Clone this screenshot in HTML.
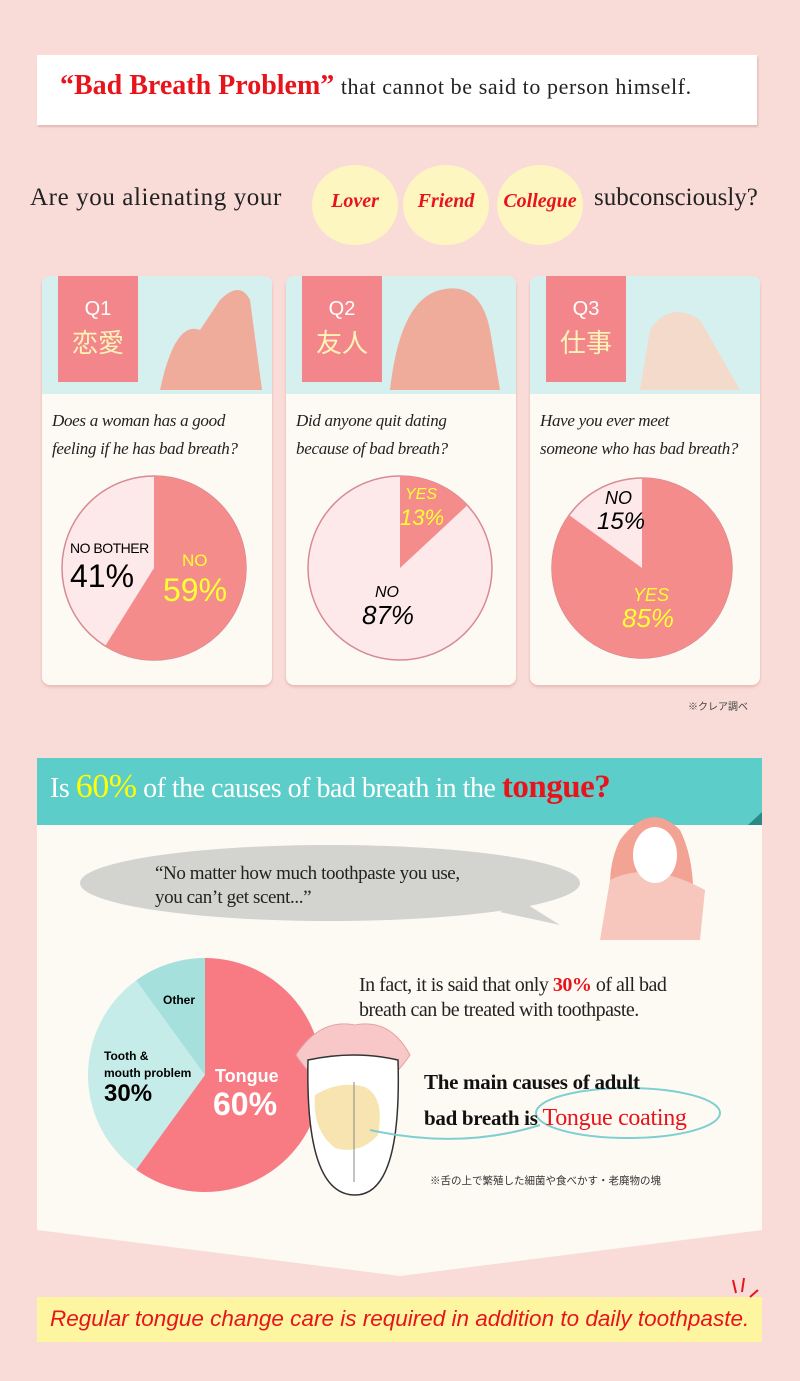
<!DOCTYPE html>
<html><head><meta charset="utf-8"><style>
body{margin:0;width:800px;height:1381px;background:#f9dcd8;position:relative;overflow:hidden;font-family:"Liberation Serif","Noto Serif CJK SC",serif}
.a{position:absolute}
.card{position:absolute;top:276px;width:230px;height:409px;background:#fdfaf3;border-radius:8px;box-shadow:0 2px 3px #e6b8b4;overflow:hidden}
.card .hd{position:absolute;left:0;top:0;width:230px;height:118px;background:#d6efef}
.tag{position:absolute;left:16px;top:0;width:80px;height:106px;background:#f2868a;color:#fff3b8;text-align:center;font-family:"Liberation Sans","Noto Sans CJK JP",sans-serif}
.tag b{display:block;font-size:20px;font-weight:normal;color:#fff;margin-top:22px}
.tag i{display:block;font-style:normal;font-size:26px;margin-top:2px}
.q{position:absolute;left:10px;top:131px;font-style:italic;font-size:17px;line-height:28px;color:#222;letter-spacing:-0.3px}
.sans{font-family:"Liberation Sans",sans-serif;font-style:italic}
.circ{position:absolute;top:165px;width:86px;height:80px;border-radius:50%;background:#fdf6c0;text-align:center;line-height:72px;color:#e8141c;font-weight:bold;font-style:italic;font-size:20px}
</style></head><body>
<div class="a" style="left:37px;top:55px;width:720px;height:70px;background:#fff;box-shadow:1px 2px 2px #e0b8b5"></div>
<div class="a" style="left:60px;top:70px;font-size:26px;white-space:nowrap"><span style="color:#e8141c;font-weight:bold;font-size:28px">“Bad Breath Problem”</span> <span style="font-size:22px;color:#222;letter-spacing:0.6px">that cannot be said to person himself.</span></div>
<div class="a" style="left:30px;top:184px;font-size:25px;color:#222;letter-spacing:0.6px">Are you alienating your</div>
<div class="circ" style="left:312px">Lover</div>
<div class="circ" style="left:403px">Friend</div>
<div class="circ" style="left:497px">Collegue</div>
<div class="a" style="left:594px;top:184px;font-size:25px;color:#222">subconsciously?</div>

<div class="card" style="left:42px"><div class="hd"></div><div class="tag"><b>Q1</b><i>恋愛</i></div><div class="q">Does a woman has a good<br>feeling if  he has bad breath?</div></div>
<div class="card" style="left:286px"><div class="hd"></div><div class="tag"><b>Q2</b><i>友人</i></div><div class="q">Did anyone quit dating<br>because of  bad breath?</div></div>
<div class="card" style="left:530px"><div class="hd"></div><div class="tag"><b>Q3</b><i>仕事</i></div><div class="q">Have you ever meet<br>someone who has bad breath?</div></div>

<svg class="a" style="left:0;top:0" width="800" height="1381">
<g stroke="#d88a92" stroke-width="1.5">
<circle cx="154" cy="568" r="92" fill="#fde8ea"/>
<path d="M154 568 L154 476 A92 92 0 1 1 105.2 646 Z" fill="#f58c8c" stroke="none"/>
<circle cx="400" cy="568" r="92" fill="#fde8ea"/>
<path d="M400 568 L400 476 A92 92 0 0 1 467.3 505.3 Z" fill="#f58c8c" stroke="none"/>
<circle cx="642" cy="568" r="90" fill="#fde8ea"/>
<path d="M642 568 L642 478 A90 90 0 1 1 569.2 515.1 Z" fill="#f58c8c" stroke="none"/>
</g>
<g fill="#f3a08c" opacity="0.85"><path d="M160 390 Q175 320 200 330 L220 300 Q240 280 250 300 L262 390 Z"/><path d="M390 390 Q400 300 440 290 Q480 280 490 330 L500 390 Z"/><path d="M640 390 L650 330 Q670 300 700 320 L740 390 Z" fill="#f8d6c4"/></g>
<rect x="37" y="823" width="725" height="407" fill="#fdfaf3"/>
<path d="M37 1230 L762 1230 L400 1276 Z" fill="#fdfaf3"/>
<rect x="37" y="758" width="725" height="67" fill="#5ccdc8"/>
<path d="M748 825 L762 812 L762 825 Z" fill="#2b8a86"/>
<ellipse cx="330" cy="883" rx="250" ry="38" fill="#d3d3d0"/>
<path d="M520 900 L560 925 L500 912 Z" fill="#d3d3d0"/>
<g><path d="M620 940 Q600 880 620 840 Q650 800 680 830 Q700 870 690 940 Z" fill="#f2a393"/><path d="M600 940 L610 880 Q650 860 705 890 L700 940 Z" fill="#f7c7bd"/><ellipse cx="655" cy="855" rx="22" ry="28" fill="#fff"/></g>
<circle cx="205" cy="1075" r="117" fill="#c6ecea"/>
<path d="M205 1075 L205 958 A117 117 0 1 1 136.2 1169.7 Z" fill="#f87b84"/>
<path d="M205 1075 L136.2 980.3 A117 117 0 0 1 205 958 Z" fill="#a5e0dc"/>
<path d="M296 1055 Q320 1018 355 1025 Q390 1018 410 1055 Q385 1092 355 1092 Q320 1092 296 1055 Z" fill="#f8c8c8" stroke="#e5a3a3"/>
<path d="M308 1060 Q305 1195 355 1195 Q402 1195 398 1060 Q355 1050 308 1060 Z" fill="#fff" stroke="#333" stroke-width="1.5"/>
<path d="M315 1095 Q340 1080 365 1087 Q385 1097 378 1135 Q360 1155 335 1148 Q312 1130 315 1095 Z" fill="#f7e4b0"/>
<line x1="354" y1="1082" x2="354" y2="1182" stroke="#888"/>
<ellipse cx="628" cy="1113" rx="92" ry="25" fill="none" stroke="#7fcfd0" stroke-width="2"/>
<path d="M540 1125 Q460 1150 370 1130" fill="none" stroke="#7fcfd0" stroke-width="2"/>
<rect x="37" y="1297" width="725" height="45" fill="#fdf5a0"/>
<g stroke="#e8141c" stroke-width="2"><line x1="733" y1="1280" x2="736" y2="1293"/><line x1="744" y1="1278" x2="742" y2="1292"/><line x1="758" y1="1290" x2="750" y2="1297"/></g>
</svg>

<div class="a sans" style="left:70px;top:540px;font-size:14px;font-style:normal;letter-spacing:-0.5px">NO BOTHER</div>
<div class="a sans" style="left:70px;top:558px;font-size:32px;font-style:normal">41%</div>
<div class="a sans" style="left:182px;top:551px;font-size:17px;font-style:normal;color:#ffff33">NO</div>
<div class="a sans" style="left:163px;top:572px;font-size:32px;font-style:normal;color:#ffff33">59%</div>
<div class="a sans" style="left:405px;top:486px;font-size:16px;color:#ffff33">YES</div>
<div class="a sans" style="left:400px;top:505px;font-size:22px;color:#ffff33">13%</div>
<div class="a sans" style="left:375px;top:584px;font-size:16px">NO</div>
<div class="a sans" style="left:362px;top:600px;font-size:26px">87%</div>
<div class="a sans" style="left:605px;top:488px;font-size:18px">NO</div>
<div class="a sans" style="left:597px;top:508px;font-size:24px">15%</div>
<div class="a sans" style="left:633px;top:585px;font-size:18px;color:#ffff33">YES</div>
<div class="a sans" style="left:622px;top:603px;font-size:26px;color:#ffff33">85%</div>
<div class="a" style="left:688px;top:698px;font-size:10px;font-family:'Liberation Sans','Noto Sans CJK JP',sans-serif;color:#444">※クレア調べ</div>

<div class="a" style="left:50px;top:768px;font-size:28px;color:#fff;white-space:nowrap;letter-spacing:-0.5px">Is <span style="color:#ffff00;font-size:34px">60%</span> of  the causes of  bad breath in the <span style="color:#e8141c;font-weight:bold;font-size:33px">tongue?</span></div>
<div class="a" style="left:155px;top:862px;font-size:19px;line-height:24px;color:#222;letter-spacing:-0.4px">“No matter how much toothpaste you use,<br>you can’t get scent...”</div>
<div class="a" style="left:359px;top:973px;font-size:20px;line-height:25px;color:#222;letter-spacing:-0.5px">In fact, it is said that only <b style="color:#e8141c">30%</b> of  all bad<br>breath can be treated with toothpaste.</div>
<div class="a" style="left:424px;top:1064px;font-size:21px;font-weight:bold;line-height:36px;color:#111;letter-spacing:-0.3px">The main causes of  adult<br>bad breath is <span style="color:#e8141c;font-weight:normal;font-size:24px">Tongue coating</span></div>
<div class="a" style="left:430px;top:1173px;font-size:10.5px;font-family:'Liberation Sans','Noto Sans CJK JP',sans-serif;color:#333">※舌の上で繁殖した細菌や食べかす・老廃物の塊</div>
<div class="a sans" style="left:163px;top:993px;font-size:12px;font-style:normal;font-weight:bold">Other</div>
<div class="a sans" style="left:104px;top:1048px;font-size:12px;font-style:normal;font-weight:bold;line-height:17px">Tooth &amp;<br>mouth problem</div>
<div class="a sans" style="left:104px;top:1080px;font-size:24px;font-style:normal;font-weight:bold">30%</div>
<div class="a sans" style="left:215px;top:1066px;font-size:18px;font-style:normal;font-weight:bold;color:#fff">Tongue</div>
<div class="a sans" style="left:213px;top:1086px;font-size:32px;font-style:normal;font-weight:bold;color:#fff">60%</div>
<div class="a sans" style="left:50px;top:1306px;font-size:22.5px;color:#e8141c;white-space:nowrap">Regular tongue change care is required in addition to daily toothpaste.</div>
</body></html>
